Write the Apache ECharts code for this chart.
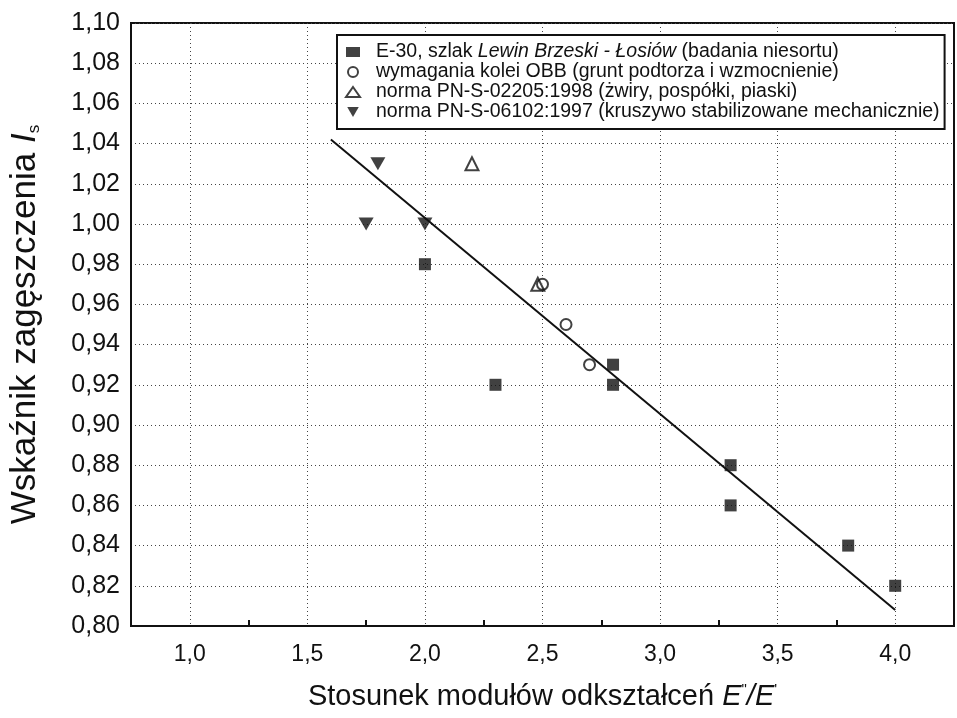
<!DOCTYPE html>
<html lang="pl">
<head>
    <meta charset="UTF-8">
    <title>Wskaźnik zagęszczenia</title>
    <script src="https://cdn.jsdelivr.net/npm/echarts@6.0.0/dist/echarts.min.js"></script>
</head>
<body style="margin:0;background:#fff;">
<div id="chart1" style="width: 957px;height:718px;"></div>

<script>
    // values
    var e30X = [2.0, 2.3, 2.8, 2.8, 3.3, 3.3, 3.8, 4.0];
    var e30Y = [0.98, 0.92, 0.93, 0.92, 0.88, 0.86, 0.84, 0.82];
    var obbX = [2.5, 2.6, 2.7];
    var obbY = [0.97, 0.95, 0.93];
    var pn02205X = [2.2, 2.48];
    var pn02205Y = [1.03, 0.97];
    var pn06102X = [1.8, 1.75, 2.0];
    var pn06102Y = [1.03, 1.00, 1.00];
    var fitX = [1.6, 4.0];
    var fitY = [1.042, 0.808];

    var seriesNames = [
        'E-30, szlak Lewin Brzeski - Łosiów (badania niesortu)',
        'wymagania kolei OBB (grunt podtorza i wzmocnienie)',
        'norma PN-S-02205:1998 (żwiry, pospółki, piaski)',
        'norma PN-S-06102:1997 (kruszywo stabilizowane mechanicznie)'
    ];

    function pairs(xs, ys) {
        return xs.map(function (x, i) { return [x, ys[i]]; });
    }

    var ink = '#111';
    var gridColor = '#444';
    // downward pointing triangle
    var downTriangle = 'path://M0,0L20,0L10,17.3Z';

    var chart = echarts.init(document.getElementById('chart1'));
    var option = {
        backgroundColor: '#fff',
        animation: false,
        grid: {
            left: 131, right: 3, top: 23, bottom: 92,
            show: true, borderColor: ink, borderWidth: 2
        },
        legend: {
            data: seriesNames,
            orient: 'vertical',
            left: 337,
            top: 35,
            padding: [7, 5, 7, 8],
            itemGap: 0,
            itemWidth: 14,
            itemHeight: 10,
            borderColor: ink,
            borderWidth: 2,
            backgroundColor: '#fff',
            selectedMode: false,
            textStyle: {
                fontFamily: 'Liberation Sans',
                fontSize: 19.5,
                lineHeight: 19,
                color: ink,
                padding: [0, 0, 0, 11],
                rich: {
                    i: { fontFamily: 'Liberation Sans', fontSize: 19.5, lineHeight: 19, fontStyle: 'italic', color: ink }
                }
            },
            formatter: function (name) {
                if (name === seriesNames[0]) {
                    return 'E-30, szlak {i|Lewin Brzeski - Łosiów} (badania niesortu)';
                }
                return name;
            }
        },
        xAxis: [{
            type: 'value',
            min: 0.75,
            max: 4.25,
            interval: 0.25,
            name: '{t|Stosunek modułów odkształceń }{i|E}{s|"}{i|/E}{s|\'}',
            nameLocation: 'middle',
            nameGap: 56,
            nameTextStyle: {
                rich: {
                    t: { fontFamily: 'Liberation Sans', fontSize: 29, color: ink },
                    i: { fontFamily: 'Liberation Sans', fontSize: 29, fontStyle: 'italic', color: ink },
                    s: { fontFamily: 'Liberation Sans', fontSize: 15, color: ink, verticalAlign: 'top', padding: [0, 0, 14, 0] }
                }
            },
            axisLine: { onZero: false, lineStyle: { color: ink, width: 2 } },
            axisTick: { show: false },
            axisLabel: {
                margin: 17,
                fontFamily: 'Liberation Sans Narrow, Liberation Sans',
                fontSize: 23,
                color: ink,
                formatter: function (v) {
                    if (Math.abs(v * 2 - Math.round(v * 2)) > 1e-6) return '';
                    return v.toFixed(1).replace('.', ',');
                }
            },
            splitLine: {
                show: true,
                lineStyle: { color: ['rgba(0,0,0,0)', gridColor], type: [1, 3], width: 1 }
            }
        }, {
            type: 'value',
            position: 'bottom',
            min: 0.75,
            max: 4.25,
            interval: 0.5,
            axisLine: { show: false, onZero: false },
            axisTick: { show: true, inside: true, length: 6, lineStyle: { color: ink, width: 2 } },
            axisLabel: { show: false },
            splitLine: { show: false }
        }],
        yAxis: {
            type: 'value',
            min: 0.8,
            max: 1.1,
            interval: 0.02,
            name: '{t|Wskaźnik zagęszczenia }{i|I}{s|s}',
            nameLocation: 'middle',
            nameRotate: 90,
            nameGap: 88,
            nameTextStyle: {
                rich: {
                    t: { fontFamily: 'Liberation Sans', fontSize: 35, color: ink },
                    i: { fontFamily: 'Liberation Sans', fontSize: 35, fontStyle: 'italic', color: ink },
                    s: { fontFamily: 'Liberation Sans', fontSize: 17, color: ink, verticalAlign: 'bottom', padding: [14, 0, 0, 0] }
                }
            },
            axisLine: { lineStyle: { color: ink, width: 2 } },
            axisTick: { show: false },
            axisLabel: {
                margin: 11,
                fontFamily: 'Liberation Sans',
                fontSize: 25,
                color: ink,
                formatter: function (v) { return v.toFixed(2).replace('.', ','); }
            },
            splitLine: {
                show: true,
                lineStyle: { color: gridColor, type: [1, 3], width: 1 }
            }
        },
        series: [{
            name: 'fit',
            type: 'line',
            data: pairs(fitX, fitY),
            showSymbol: false,
            lineStyle: { color: ink, width: 2 },
            z: 3
        }, {
            name: seriesNames[0],
            type: 'scatter',
            data: pairs(e30X, e30Y),
            symbol: 'rect',
            symbolSize: 12,
            itemStyle: { color: ink },
            z: 4
        }, {
            name: seriesNames[1],
            type: 'scatter',
            data: pairs(obbX, obbY),
            symbol: 'circle',
            symbolSize: 11,
            itemStyle: { color: '#fff', borderColor: ink, borderWidth: 2 },
            z: 4
        }, {
            name: seriesNames[2],
            type: 'scatter',
            data: pairs(pn02205X, pn02205Y),
            symbol: 'triangle',
            symbolSize: 13,
            itemStyle: { color: 'rgba(255,255,255,0)', borderColor: ink, borderWidth: 2 },
            z: 4
        }, {
            name: seriesNames[3],
            type: 'scatter',
            data: pairs(pn06102X, pn06102Y),
            symbol: downTriangle,
            symbolSize: [15, 13],
            itemStyle: { color: ink },
            z: 4
        }]
    };
    chart.setOption(option);
</script>
</body>
</html>
